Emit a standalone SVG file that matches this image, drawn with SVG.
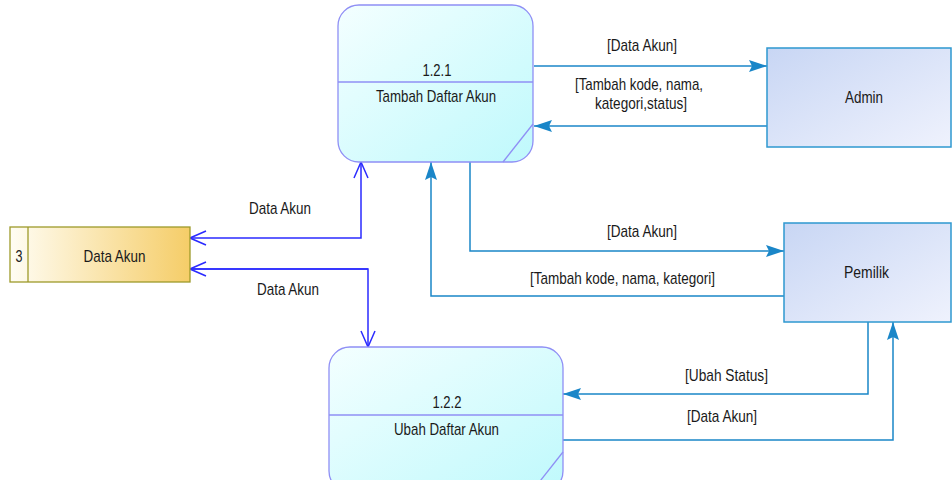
<svg xmlns="http://www.w3.org/2000/svg" width="952" height="480" viewBox="0 0 952 480">
<defs>
<linearGradient id="gProc" x1="0" y1="0" x2="1" y2="1">
<stop offset="0" stop-color="#f4ffff"/>
<stop offset="1" stop-color="#bff9fc"/>
</linearGradient>
<linearGradient id="gStore" x1="0" y1="0" x2="1" y2="0">
<stop offset="0" stop-color="#fffdf4"/>
<stop offset="1" stop-color="#f5cd68"/>
</linearGradient>
<linearGradient id="gExt" x1="0" y1="0" x2="1" y2="1">
<stop offset="0" stop-color="#c8d6f4"/>
<stop offset="1" stop-color="#eff2fd"/>
</linearGradient>
<marker id="aFill" viewBox="0 0 18 12" refX="18" refY="6" markerWidth="18" markerHeight="12" markerUnits="userSpaceOnUse" orient="auto">
<path d="M0,0 L18,6 L0,12 L3,6 z" fill="#1a86c8"/>
</marker>
<marker id="aOpen" viewBox="-1 -1 18 16" refX="16" refY="7" markerWidth="18" markerHeight="16" markerUnits="userSpaceOnUse" orient="auto-start-reverse">
<path d="M0,0 L16,7 L0,14" fill="none" stroke="#2b2bff" stroke-width="1.5"/>
</marker>
</defs>
<style>
.proc{fill:url(#gProc);stroke:#8f8ff5;stroke-width:1.3}
.pline{stroke:#8f8ff5;stroke-width:1.3;fill:none}
.store{fill:url(#gStore);stroke:#9d9a2a;stroke-width:1.3}
.ext{fill:url(#gExt);stroke:#2e98d0;stroke-width:1.5}
.c{fill:none;stroke:#1a86c8;stroke-width:1.5}
.b{fill:none;stroke:#2b2bff;stroke-width:1.5}
text{font-family:"Liberation Sans",Arial,sans-serif;font-size:17px;fill:#1a1a1a;text-anchor:middle}
</style>

<g id="connectors">
<path class="c" d="M534,66 H767" marker-end="url(#aFill)"/>
<path class="c" d="M767,126 H534" marker-end="url(#aFill)"/>
<path class="c" d="M470,162 V251 H784" marker-end="url(#aFill)"/>
<path class="c" d="M784,296 H431 V162" marker-end="url(#aFill)"/>
<path class="c" d="M868,322 V394 H563" marker-end="url(#aFill)"/>
<path class="c" d="M563,440 H893 V322" marker-end="url(#aFill)"/>
<path class="b" d="M190,238 H361 V162" marker-start="url(#aOpen)" marker-end="url(#aOpen)"/>
<path class="b" d="M190,269 H368 V347" marker-start="url(#aOpen)" marker-end="url(#aOpen)"/>
<path class="b" d="M191,269 H368" stroke-width="2.7"/>
<text x="642" y="51" textLength="70" lengthAdjust="spacingAndGlyphs">[Data Akun]</text>
<text x="639" y="90" textLength="128" lengthAdjust="spacingAndGlyphs">[Tambah kode, nama,</text>
<text x="641" y="109" textLength="92" lengthAdjust="spacingAndGlyphs">kategori,status]</text>
<text x="642" y="237" textLength="70" lengthAdjust="spacingAndGlyphs">[Data Akun]</text>
<text x="622.5" y="284" textLength="185" lengthAdjust="spacingAndGlyphs">[Tambah kode, nama, kategori]</text>
<text x="726.5" y="381" textLength="83" lengthAdjust="spacingAndGlyphs">[Ubah Status]</text>
<text x="722" y="422" textLength="70" lengthAdjust="spacingAndGlyphs">[Data Akun]</text>
<text x="280" y="214" textLength="62" lengthAdjust="spacingAndGlyphs">Data Akun</text>
<text x="288" y="295" textLength="62" lengthAdjust="spacingAndGlyphs">Data Akun</text>
</g>

<g id="p121">
<rect class="proc" x="338" y="5" width="195" height="157" rx="21" ry="21"/>
<line class="pline" x1="338" y1="82" x2="533" y2="82"/>
<line class="pline" x1="503" y1="162" x2="533" y2="124"/>
<text x="437" y="76" textLength="29" lengthAdjust="spacingAndGlyphs">1.2.1</text>
<text x="436" y="102" textLength="120" lengthAdjust="spacingAndGlyphs">Tambah Daftar Akun</text>
</g>

<g id="p122">
<rect class="proc" x="329" y="347" width="234" height="145" rx="21" ry="21"/>
<line class="pline" x1="329" y1="415" x2="563" y2="415"/>
<line class="pline" x1="533" y1="490" x2="563" y2="452"/>
<text x="447" y="408" textLength="29" lengthAdjust="spacingAndGlyphs">1.2.2</text>
<text x="446.5" y="435" textLength="105" lengthAdjust="spacingAndGlyphs">Ubah Daftar Akun</text>
</g>

<g id="store3">
<rect class="store" x="10" y="227" width="180" height="55"/>
<line x1="28" y1="227" x2="28" y2="282" stroke="#9d9a2a" stroke-width="1.3"/>
<text x="19" y="262" textLength="7" lengthAdjust="spacingAndGlyphs">3</text>
<text x="114.5" y="262" textLength="62" lengthAdjust="spacingAndGlyphs">Data Akun</text>
</g>

<g id="admin">
<rect class="ext" x="767" y="48" width="184" height="99"/>
<text x="864" y="103" textLength="38" lengthAdjust="spacingAndGlyphs">Admin</text>
</g>

<g id="pemilik">
<rect class="ext" x="784" y="223" width="167" height="99"/>
<text x="866.5" y="278" textLength="45" lengthAdjust="spacingAndGlyphs">Pemilik</text>
</g>
</svg>
